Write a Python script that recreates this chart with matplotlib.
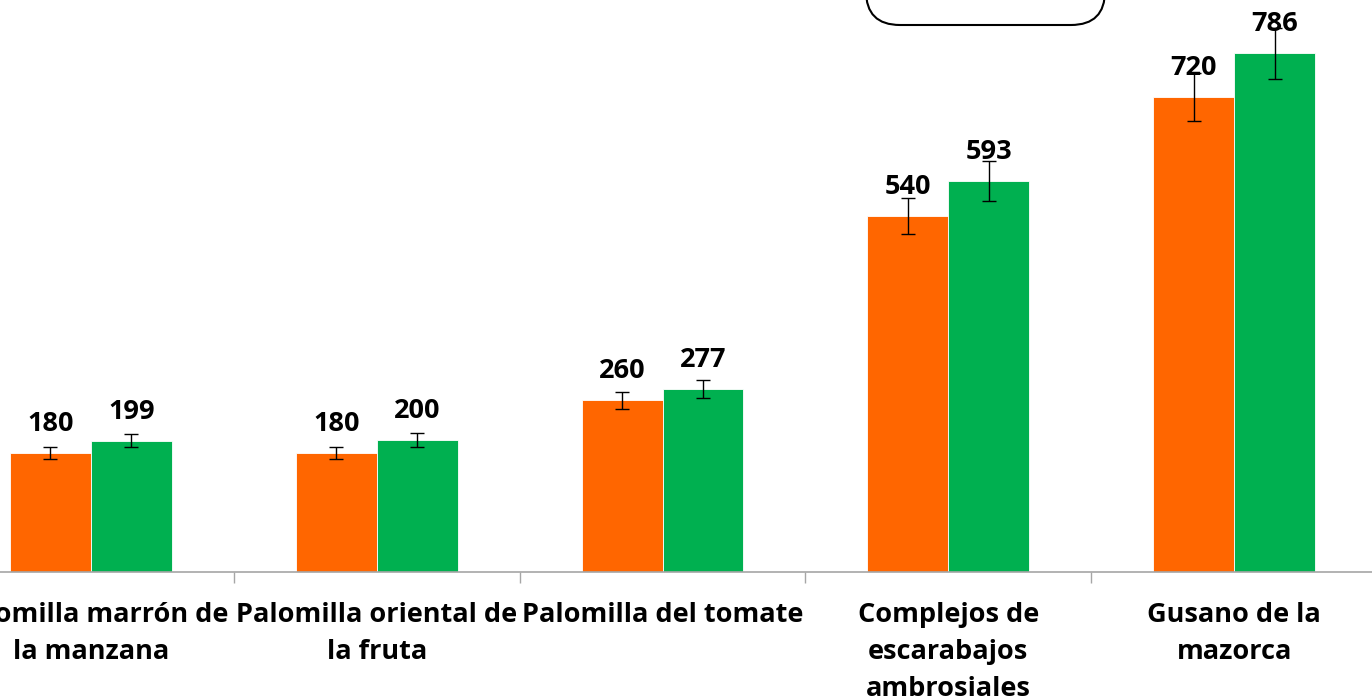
import matplotlib
matplotlib.use("Agg")
from matplotlib import pyplot as plt
from matplotlib.patches import FancyBboxPatch
from matplotlib.transforms import IdentityTransform
import numpy as np

categorias = ["Palomilla marrón de\nla manzana", "Palomilla oriental de\nla fruta",
              "Palomilla del tomate", "Complejos de\nescarabajos\nambrosiales",
              "Gusano de la\nmazorca"]
serie_naranja = [180, 180, 260, 540, 720]
serie_verde = [199, 200, 277, 593, 786]
err_naranja = [9, 9, 13, 27, 36]
err_verde = [10, 10, 14, 30, 39]

plt.rcParams['font.family'] = ['Open Sans', 'DejaVu Sans']

fig = plt.figure(figsize=(13.72, 7), dpi=100)
ax = fig.add_axes([-52/1372, 128/700, 1429/1372, 572/700])

x = np.arange(len(categorias))
w = 0.283
b1 = ax.bar(x - w/2, serie_naranja, w, color='#FF6600', edgecolor='white', linewidth=0.6,
            yerr=err_naranja, error_kw=dict(ecolor='black', elinewidth=1, capsize=5, capthick=1))
b2 = ax.bar(x + w/2, serie_verde, w, color='#00B050', edgecolor='white', linewidth=0.6,
            yerr=err_verde, error_kw=dict(ecolor='black', elinewidth=1, capsize=5, capthick=1))

for bars, vals in ((b1, serie_naranja), (b2, serie_verde)):
    for r, v in zip(bars, vals):
        ax.annotate(str(v), (r.get_x() + r.get_width()/2, v), xytext=(0, 21),
                    textcoords='offset points', ha='center', va='center',
                    fontsize=19.5, fontweight='bold', color='black', zorder=5)

ax.set_xlim(-0.5, 4.5)
ax.set_ylim(0, 867)
ax.set_yticks([])
for s in ['left', 'right', 'top']:
    ax.spines[s].set_visible(False)
ax.spines['bottom'].set_color('#A6A6A6')
ax.spines['bottom'].set_linewidth(1.2)

ax.set_xticks(x)
ax.set_xticklabels(categorias, fontsize=19.5, fontweight='bold', linespacing=1.56)
ax.tick_params(axis='x', which='major', length=0, pad=21.5)
ax.set_xticks(x[:-1] + 0.5, minor=True)
ax.tick_params(axis='x', which='minor', length=8, width=1, color='#A6A6A6', direction='out')

caja = FancyBboxPatch((866, 675), 239, 80, boxstyle='round,pad=0,rounding_size=34',
                      transform=IdentityTransform(), facecolor='white',
                      edgecolor='black', linewidth=1.5)
fig.patches.append(caja)

fig.savefig('out.png', dpi=100)
